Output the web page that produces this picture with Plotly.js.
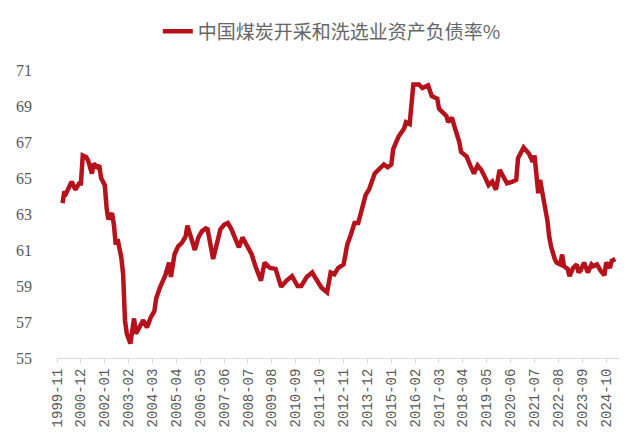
<!DOCTYPE html>
<html>
<head>
<meta charset="utf-8">
<script src="https://cdn.plot.ly/plotly-3.0.1.min.js"></script>
<style>html,body{margin:0;padding:0;background:#fff;}#chart{width:639px;height:447px;}</style>
</head>
<body>
<div id="chart"></div>
<script>
var seriesName = "中国煤炭开采和洗选业资产负债率%";

var months = [
"2000-02","2000-03","2000-04","2000-05","2000-07","2000-09","2000-11","2000-12",
"2001-01","2001-03","2001-04","2001-06","2001-07","2001-09","2001-10","2001-11",
"2002-01","2002-02","2002-03","2002-05","2002-06","2002-07","2002-08","2002-10","2002-11","2002-12",
"2003-01","2003-03","2003-04","2003-05","2003-06","2003-08","2003-10","2003-12",
"2004-02","2004-04","2004-05","2004-07","2004-10","2004-12",
"2005-01","2005-03","2005-05","2005-07","2005-09","2005-10","2005-12",
"2006-02","2006-04","2006-06","2006-08","2006-09","2006-12",
"2007-02","2007-04","2007-06","2007-08","2007-10","2007-12",
"2008-02","2008-04","2008-06","2008-09","2008-11",
"2009-02","2009-04","2009-07","2009-10",
"2010-01","2010-04","2010-07","2010-10","2010-12",
"2011-03","2011-06","2011-08","2011-11",
"2012-02","2012-04","2012-06","2012-08","2012-11",
"2013-01","2013-03","2013-05","2013-07","2013-09","2013-11",
"2014-01","2014-04","2014-06","2014-09","2014-11",
"2015-01","2015-02","2015-05","2015-08","2015-09","2015-11",
"2016-01","2016-04","2016-06","2016-09","2016-11",
"2017-02","2017-03","2017-05","2017-07","2017-08","2017-10","2017-12",
"2018-02","2018-03","2018-06","2018-08","2018-10","2018-12",
"2019-02","2019-04","2019-06","2019-08","2019-10","2019-12",
"2020-02","2020-04","2020-07","2020-09","2020-10","2020-12",
"2021-01","2021-04","2021-06","2021-07","2021-08","2021-09","2021-10","2021-12",
"2022-01","2022-02","2022-03","2022-04","2022-06","2022-07","2022-09","2022-10","2022-11",
"2023-01","2023-02","2023-04","2023-06","2023-07","2023-08","2023-10","2023-12",
"2024-02","2024-03","2024-05","2024-07","2024-09","2024-10","2024-12",
"2025-01","2025-03"
];

var debtRatio = [
63.6,64.25,64.15,64.4,64.8,64.35,64.7,64.7,
66.25,66.15,65.95,65.25,65.8,65.6,65.7,65.0,
64.6,63.3,62.7,63.05,62.4,61.3,61.6,60.6,59.65,57.1,
56.35,55.8,56.7,57.2,56.35,56.7,57.1,56.7,
57.25,57.6,58.3,58.9,59.6,60.3,
59.5,60.75,61.2,61.4,61.75,62.35,61.7,
61.0,61.7,62.05,62.2,62.15,60.5,
61.3,62.15,62.4,62.5,62.15,61.7,
61.15,61.7,61.3,60.75,60.1,
59.3,60.3,60.0,59.95,
58.95,59.3,59.55,59.0,59.0,
59.5,59.75,59.4,58.9,
58.65,59.75,59.65,60.0,60.2,
61.3,61.85,62.5,62.5,63.2,64.05,
64.4,65.25,65.45,65.75,65.6,
65.75,66.6,67.3,67.75,68.1,68.0,
70.2,70.2,70.0,70.15,69.55,
69.4,68.85,68.65,68.45,68.1,68.35,67.65,
67.0,66.45,66.2,65.7,65.25,65.7,
65.45,65.05,64.6,64.8,64.35,65.45,
65.0,64.7,64.8,64.9,66.1,66.45,
66.7,66.35,65.9,66.25,65.35,64.15,64.9,63.9,
63.35,62.6,61.75,61.2,60.5,60.3,60.2,60.75,60.1,
59.95,59.55,60.0,60.2,59.75,59.85,60.3,59.75,
60.2,60.1,60.2,59.85,59.6,60.3,60.0,
60.4,60.5
];

var tickLabels = [
"1999-11","2000-12","2002-01","2003-02","2004-03","2005-04","2006-05","2007-06",
"2008-07","2009-08","2010-09","2011-10","2012-11","2013-12","2015-01","2016-02",
"2017-03","2018-04","2019-05","2020-06","2021-07","2022-08","2023-09","2024-10"
];

var yTicks = [55,57,59,61,63,65,67,69,71];

var trace = {
  x: months,
  y: debtRatio,
  type: "scatter",
  mode: "lines",
  name: seriesName,
  line: {color: "#B5121B", width: 4.5}
};

var layout = {
  width: 639,
  height: 447,
  margin: {l: 57, r: 20, t: 67, b: 89},
  paper_bgcolor: "#ffffff",
  plot_bgcolor: "#ffffff",
  showlegend: true,
  legend: {
    orientation: "h",
    x: 0.489, xanchor: "center",
    y: 1.134, yanchor: "middle",
    font: {family: "Noto Sans CJK SC", size: 19, color: "#666666"},
    bgcolor: "rgba(0,0,0,0)"
  },
  xaxis: {
    type: "date",
    range: ["1999-11-01", "2025-05-01"],
    tickmode: "array",
    tickvals: tickLabels,
    ticktext: tickLabels,
    tickangle: -90,
    tickfont: {family: "Liberation Mono", size: 14, color: "#595959"},
    showgrid: false,
    zeroline: false,
    showline: true,
    linecolor: "#d9d9d9",
    linewidth: 1,
    ticks: "outside",
    ticklen: 4,
    tickcolor: "#d9d9d9",
    fixedrange: true
  },
  yaxis: {
    range: [55, 71],
    tickmode: "array",
    tickvals: yTicks,
    ticktext: yTicks.map(String),
    tickfont: {family: "Liberation Serif", size: 16, color: "#595959"},
    showgrid: false,
    zeroline: false,
    showline: false,
    ticks: "",
    ticklabelstandoff: 24,
    fixedrange: true
  }
};

Plotly.newPlot("chart", [trace], layout, {displayModeBar: false, staticPlot: true});
</script>
</body>
</html>
